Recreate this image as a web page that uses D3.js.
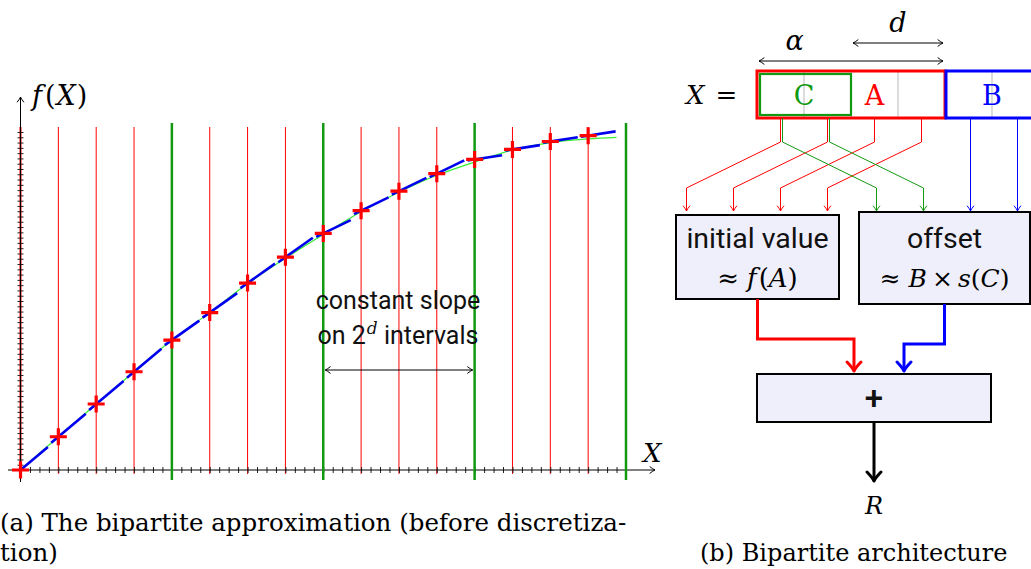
<!DOCTYPE html>
<html>
<head>
<meta charset="utf-8">
<script src="https://cdn.jsdelivr.net/npm/d3@7"></script>
<style>
  body { margin: 0; background: #fff; }
  .math { font-family: "DejaVu Serif", serif; font-style: italic; }
  .up { font-style: normal; }
  .sans { font-family: Roboto, "Noto Sans", sans-serif; }
  .caption { font-family: "DejaVu Serif", serif; }
</style>
</head>
<body>
<svg id="fig" width="1031" height="569"></svg>
<script>
// Bipartite approximation figure

// --- DATA ---
// x is counted in input steps (64 steps), 4 steps per sub-interval, 16 per slope interval
const stepTicks = d3.range(0, 65);
const valueTicks = d3.range(0, 65);
const subIntervals = d3.range(0, 17);            // boundaries of the 16 sub-intervals
const crossIndex = d3.range(0, 16);              // A: one initial value per sub-interval
const crossValues = [0, 6.3, 12.5, 18.6, 24.6, 29.8, 35.4, 40.3, 44.8, 49.1, 52.8, 56.1, 58.8, 60.7, 62.2, 63.3];
const exactX = [0, 4, 8, 12, 16, 20, 24, 28, 32, 36, 40, 44, 48, 52, 56, 60, 63];
const exactValues = [0, 6.3, 12.5, 18.6, 24.6, 29.8, 35.3, 40.1, 44.6, 48.9, 52.6, 55.8, 58.3, 60.6, 62.0, 62.7, 63.0];
const groupSlopes = [1.5, 1.27, 0.87, 0.28];     // s(C), per step, one per 2^d group

const svg = d3.select("#fig");

// --- MARKERS ---
const defs = svg.append("defs");
function marker(id, color, w, l, sw) {
    defs.append("marker")
        .attr("id", id).attr("markerUnits", "userSpaceOnUse")
        .attr("viewBox", "-20 -20 40 40").attr("markerWidth", 40).attr("markerHeight", 40)
        .attr("refX", 0).attr("refY", 0).attr("orient", "auto-start-reverse")
        .append("path")
        .attr("d", `M${-l},${-w} Q${-l * 0.4},${-w * 0.25} 0,0 Q${-l * 0.4},${w * 0.25} ${-l},${w}`)
        .attr("fill", "none").attr("stroke", color).attr("stroke-width", sw)
        .attr("stroke-linecap", "round").attr("stroke-linejoin", "round");
}
marker("tipK", "#000", 3.2, 5, 1);
marker("tipR", "#f00", 3.2, 5, 1);
marker("tipG", "#119911", 3.2, 5, 1);
marker("tipB", "#00f", 3.2, 5, 1);
marker("bigR", "#f00", 7, 9, 3);
marker("bigB", "#00f", 7, 9, 3);
marker("bigK", "#000", 7, 9, 3);

// ================= (a) the approximation =================
const x = d3.scaleLinear().domain([0, 64]).range([20.5, 626]);
const y = d3.scaleLinear().domain([0, 64]).range([470, 132]);

const plot = svg.append("g");

// red sub-interval boundaries
plot.append("g").selectAll("line")
    .data(subIntervals.filter(k => k % 4 !== 0 || k === 0))
    .join("line")
    .attr("x1", k => x(4 * k)).attr("x2", k => x(4 * k))
    .attr("y1", 127).attr("y2", 474)
    .attr("stroke", "#f00").attr("stroke-width", k => k === 0 ? 2 : 1);

// x axis
const xAxis = plot.append("g").attr("transform", `translate(0,${y(0)})`)
    .call(d3.axisBottom(x).tickValues(stepTicks).tickFormat("").tickSize(3).tickSizeOuter(0));
xAxis.select(".domain").remove();
xAxis.selectAll(".tick line").attr("y1", -3).attr("stroke", "#222");

// y axis
const yAxis = plot.append("g").attr("transform", `translate(${x(0)},0)`)
    .call(d3.axisLeft(y).tickValues(valueTicks).tickFormat("").tickSize(3).tickSizeOuter(0));
yAxis.select(".domain").remove();
yAxis.selectAll(".tick line").attr("x1", 3).attr("stroke", "#222");

plot.append("line").attr("x1", 8).attr("x2", 655).attr("y1", y(0)).attr("y2", y(0))
    .attr("stroke", "#000").attr("stroke-width", 1).attr("marker-end", "url(#tipK)");
plot.append("line").attr("x1", x(0)).attr("x2", x(0)).attr("y1", 482).attr("y2", 97)
    .attr("stroke", "#000").attr("stroke-width", 1).attr("marker-end", "url(#tipK)");

// green 2^d interval boundaries
plot.append("g").selectAll("line")
    .data(subIntervals.filter(k => k % 4 === 0 && k > 0))
    .join("line")
    .attr("x1", k => x(4 * k)).attr("x2", k => x(4 * k))
    .attr("y1", 123).attr("y2", 480)
    .attr("stroke", "#119911").attr("stroke-width", 2.5);

// exact function
plot.append("path")
    .datum(exactX.map((d, i) => [d, exactValues[i]]))
    .attr("d", d3.line().x(d => x(d[0])).y(d => y(d[1])).curve(d3.curveMonotoneX))
    .attr("fill", "none").attr("stroke", "#33ee33").attr("stroke-width", 1.2);

// bipartite approximation: constant slope per group
const segLine = d3.line().x(d => x(d[0])).y(d => y(d[1]));
plot.append("g").selectAll("path")
    .data(crossIndex)
    .join("path")
    .attr("d", i => {
        const s = groupSlopes[Math.floor(i / 4)];
        const a = Math.max(0, 4 * i - 0.75), b = 4 * i + 2.9;
        return segLine([[a, crossValues[i] + s * (a - 4 * i)], [b, crossValues[i] + s * (b - 4 * i)]]);
    })
    .attr("fill", "none").attr("stroke", "#0000ee").attr("stroke-width", 2.6);

// initial values
plot.append("g").selectAll("path")
    .data(crossIndex)
    .join("path")
    .attr("transform", i => `translate(${x(4 * i)},${y(crossValues[i])})`)
    .attr("d", "M-8.5,0H8.5M0,-8.5V8.5")
    .attr("stroke", "#f00").attr("stroke-width", 3.2);

const fx = plot.append("text").attr("class", "math").attr("x", 32).attr("y", 105).attr("font-size", 27);
fx.append("tspan").text("f");
fx.append("tspan").attr("class", "up").attr("dx", 3).text("(");
fx.append("tspan").attr("dx", 1).text("X");
fx.append("tspan").attr("class", "up").attr("dx", 1).text(")");
plot.append("text").attr("class", "math").attr("x", 643).attr("y", 462)
    .attr("font-size", 26).text("X");

const note = plot.append("text").attr("class", "sans").attr("font-size", 25)
    .attr("text-anchor", "middle").attr("fill", "#111");
note.append("tspan").attr("x", 398).attr("y", 309).text("constant slope");
const note2 = plot.append("text").attr("class", "sans").attr("font-size", 25)
    .attr("text-anchor", "middle").attr("fill", "#111").attr("x", 398).attr("y", 344);
note2.append("tspan").text("on 2");
note2.append("tspan").attr("class", "math").attr("font-size", 17).attr("dy", -10).attr("dx", 1).text("d");
note2.append("tspan").attr("dy", 10).text(" intervals");

plot.append("line").attr("x1", x(32) + 2).attr("x2", x(48) - 2).attr("y1", 370).attr("y2", 370)
    .attr("stroke", "#000").attr("marker-start", "url(#tipK)").attr("marker-end", "url(#tipK)");

svg.append("text").attr("class", "caption").attr("font-size", 24.5).attr("x", 0).attr("y", 531)
    .text("(a) The bipartite approximation (before discretiza-");
svg.append("text").attr("class", "caption").attr("font-size", 24.5).attr("x", 0).attr("y", 561)
    .text("tion)");

// ================= (b) the architecture =================
const arch = svg.append("g");
const cellW = 47, wordTop = 71, wordH = 47;
const aLeft = 757;
const cellX = k => aLeft + k * cellW;

arch.append("g").selectAll("line").data([1, 2, 3, 5]).join("line")
    .attr("x1", cellX).attr("x2", cellX).attr("y1", wordTop).attr("y2", wordTop + wordH)
    .attr("stroke", "#c4c4c4").attr("stroke-width", 1.2);

arch.append("rect").attr("x", cellX(0)).attr("y", wordTop).attr("width", 4 * cellW).attr("height", wordH)
    .attr("fill", "none").attr("stroke", "#f00").attr("stroke-width", 3);
arch.append("rect").attr("x", cellX(0) + 3).attr("y", wordTop + 3).attr("width", 2 * cellW - 3).attr("height", wordH - 6)
    .attr("fill", "none").attr("stroke", "#119911").attr("stroke-width", 2.2);
arch.append("rect").attr("x", cellX(4) + 1).attr("y", wordTop).attr("width", 2 * cellW + 10).attr("height", wordH)
    .attr("fill", "none").attr("stroke", "#00f").attr("stroke-width", 3);

arch.append("text").attr("x", cellX(1)).attr("y", 105).attr("text-anchor", "middle")
    .attr("font-family", "DejaVu Serif, serif").attr("font-size", 27).attr("fill", "#119911").text("C");
arch.append("text").attr("x", cellX(2.5)).attr("y", 105).attr("text-anchor", "middle")
    .attr("font-family", "DejaVu Serif, serif").attr("font-size", 27).attr("fill", "#f00").text("A");
arch.append("text").attr("x", cellX(5)).attr("y", 105).attr("text-anchor", "middle")
    .attr("font-family", "DejaVu Serif, serif").attr("font-size", 27).attr("fill", "#00f").text("B");

const xeq = arch.append("text").attr("x", 686).attr("y", 104).attr("font-size", 26)
    .attr("font-family", "DejaVu Serif, serif");
xeq.append("tspan").attr("font-style", "italic").text("X");
xeq.append("tspan").attr("dx", 11).text("=");

// alpha and d spans
arch.append("line").attr("x1", cellX(0) + 2).attr("x2", cellX(4) - 2).attr("y1", 61).attr("y2", 61)
    .attr("stroke", "#000").attr("marker-start", "url(#tipK)").attr("marker-end", "url(#tipK)");
arch.append("line").attr("x1", cellX(2) + 2).attr("x2", cellX(4) - 2).attr("y1", 43).attr("y2", 43)
    .attr("stroke", "#000").attr("marker-start", "url(#tipK)").attr("marker-end", "url(#tipK)");
arch.append("text").attr("class", "math").attr("x", cellX(0.8)).attr("y", 50).attr("text-anchor", "middle")
    .attr("font-size", 27).text("α");
arch.append("text").attr("class", "math").attr("x", cellX(3)).attr("y", 32).attr("text-anchor", "middle")
    .attr("font-size", 27).text("d");

// thin wires: A bits to the initial value table, C bits and B bits to the offset table
const wireBend1 = 142, wireBend2 = 188, wireEnd = 211;
const wire = d3.line();
arch.append("g").selectAll("path").data([0, 1, 2, 3]).join("path")
    .attr("d", k => {
        const sx = cellX(k + 0.5), tx = sx - 2 * cellW;
        return wire([[sx, wordTop + wordH], [sx, wireBend1], [tx, wireBend2], [tx, wireEnd]]);
    })
    .attr("fill", "none").attr("stroke", "#f00").attr("stroke-width", 1).attr("marker-end", "url(#tipR)");
arch.append("g").selectAll("path").data([0, 1]).join("path")
    .attr("d", k => {
        const sx = cellX(k + 0.5) + 2, tx = sx + 2 * cellW;
        return wire([[sx, wordTop + wordH], [sx, wireBend1], [tx, wireBend2], [tx, wireEnd]]);
    })
    .attr("fill", "none").attr("stroke", "#119911").attr("stroke-width", 1).attr("marker-end", "url(#tipG)");
arch.append("g").selectAll("path").data([4, 5]).join("path")
    .attr("d", k => {
        const sx = cellX(k + 0.5) + 2;
        return wire([[sx, wordTop + wordH], [sx, wireEnd]]);
    })
    .attr("fill", "none").attr("stroke", "#00f").attr("stroke-width", 1).attr("marker-end", "url(#tipB)");

// tables
const boxFill = "#efeffb";
arch.append("rect").attr("x", 676).attr("y", 215).attr("width", 163).attr("height", 84)
    .attr("fill", boxFill).attr("stroke", "#000").attr("stroke-width", 2);
arch.append("rect").attr("x", 859).attr("y", 212).attr("width", 171).attr("height", 92)
    .attr("fill", boxFill).attr("stroke", "#000").attr("stroke-width", 2);
arch.append("rect").attr("x", 757).attr("y", 374).attr("width", 234).attr("height", 48)
    .attr("fill", boxFill).attr("stroke", "#000").attr("stroke-width", 2);

arch.append("text").attr("class", "sans").attr("x", 757.5).attr("y", 248).attr("text-anchor", "middle")
    .attr("font-size", 28.5).attr("fill", "#111").text("initial value");
arch.append("text").attr("class", "sans").attr("x", 944.5).attr("y", 248).attr("text-anchor", "middle")
    .attr("font-size", 28.5).attr("fill", "#111").text("offset");

const fa = arch.append("text").attr("x", 757.5).attr("y", 287).attr("text-anchor", "middle")
    .attr("font-family", "DejaVu Serif, serif").attr("font-size", 26);
fa.append("tspan").text("≈");
fa.append("tspan").attr("font-style", "italic").attr("dx", 8).text("f");
fa.append("tspan").attr("dx", 2).text("(");
fa.append("tspan").attr("font-style", "italic").text("A");
fa.append("tspan").text(")");

const bs = arch.append("text").attr("x", 944.5).attr("y", 287).attr("text-anchor", "middle")
    .attr("font-family", "DejaVu Serif, serif").attr("font-size", 25);
bs.append("tspan").text("≈");
bs.append("tspan").attr("font-style", "italic").attr("dx", 8).text("B");
bs.append("tspan").attr("dx", 5).text("×");
bs.append("tspan").attr("font-style", "italic").attr("dx", 5).text("s");
bs.append("tspan").text("(");
bs.append("tspan").attr("font-style", "italic").text("C");
bs.append("tspan").text(")");

arch.append("text").attr("class", "sans").attr("x", 874).attr("y", 410).attr("text-anchor", "middle")
    .attr("font-size", 33).attr("font-weight", 500).attr("fill", "#111").text("+");

// thick wires into the adder
arch.append("path").attr("d", wire([[757.5, 299], [757.5, 339], [854, 339], [854, 371]]))
    .attr("fill", "none").attr("stroke", "#f00").attr("stroke-width", 3).attr("marker-end", "url(#bigR)");
arch.append("path").attr("d", wire([[944.5, 304], [944.5, 344], [904, 344], [904, 371]]))
    .attr("fill", "none").attr("stroke", "#00f").attr("stroke-width", 3).attr("marker-end", "url(#bigB)");
arch.append("path").attr("d", wire([[874, 422], [874, 481]]))
    .attr("fill", "none").attr("stroke", "#000").attr("stroke-width", 3).attr("marker-end", "url(#bigK)");

arch.append("text").attr("class", "math").attr("x", 874).attr("y", 514).attr("text-anchor", "middle")
    .attr("font-size", 24).text("R");

svg.append("text").attr("class", "caption").attr("font-size", 24).attr("x", 700).attr("y", 561)
    .text("(b) Bipartite architecture");
</script>
</body>
</html>
